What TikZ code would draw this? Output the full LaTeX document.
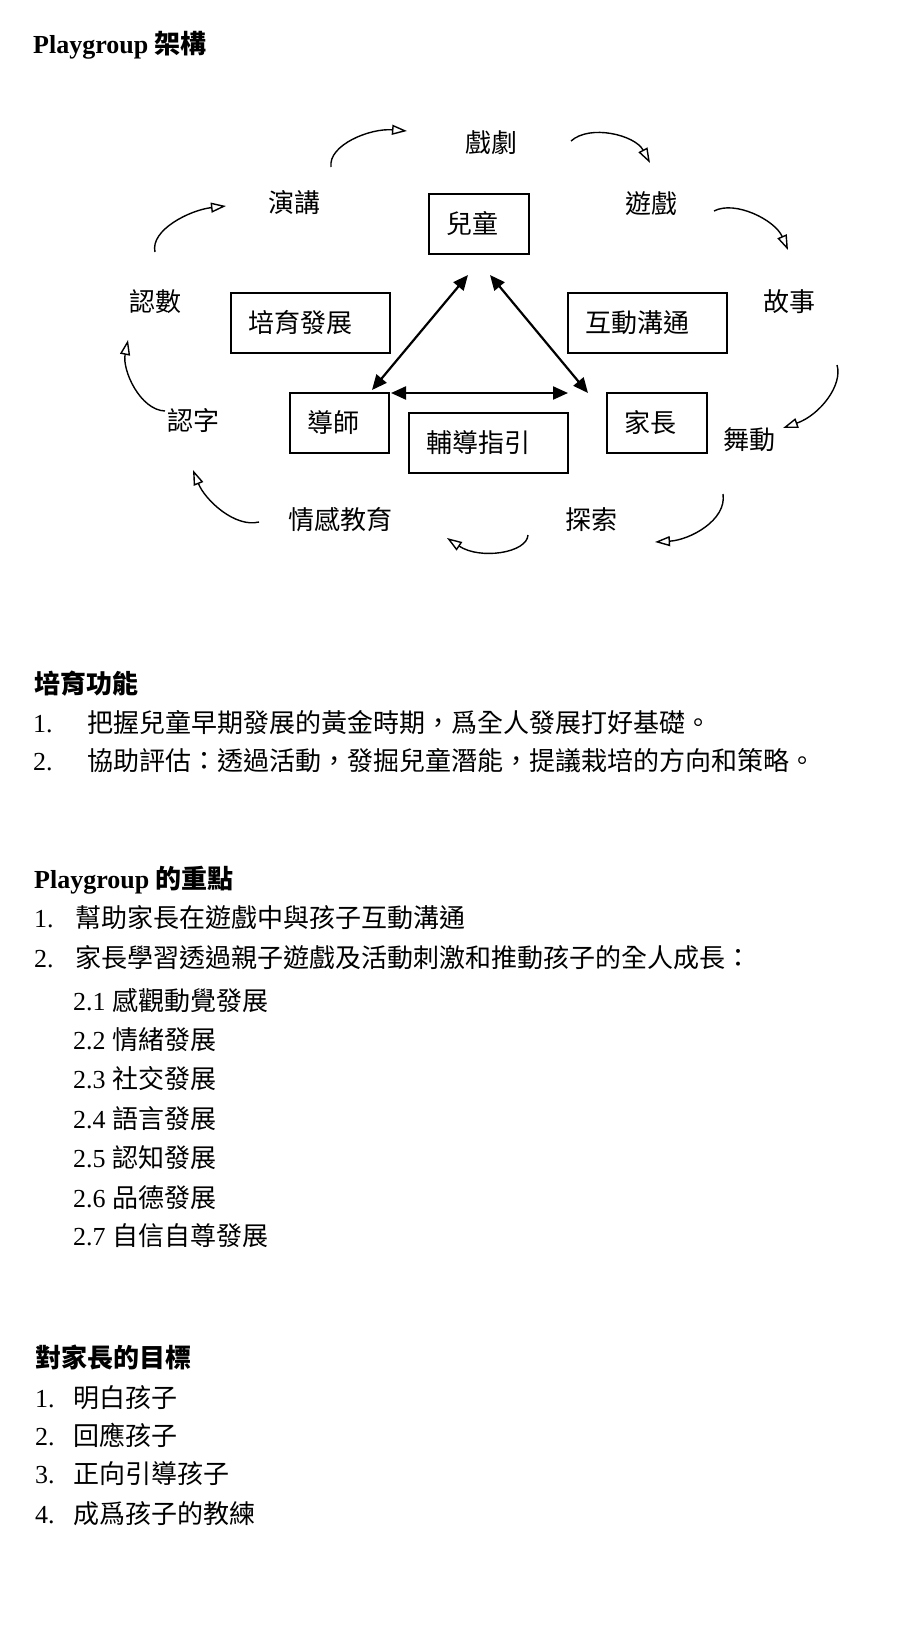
\documentclass[tikz,border=0pt]{standalone}
\usepackage{fontspec}
\setmainfont{Liberation Serif}
\newfontfamily\cjk{Noto Sans CJK TC}
\usetikzlibrary{arrows.meta}
\newcommand\mysz{\fontsize{26pt}{31pt}\selectfont}
\tikzset{
  lbl/.style={inner sep=0pt, text height=22.9pt, text depth=3.1pt, font=\mysz\cjk},
  txt/.style={inner sep=0pt, anchor=base west, font=\mysz},
  hd/.style={inner sep=0pt, anchor=base west, font=\mysz\bfseries},
  box/.style={draw, line width=1.5pt, inner xsep=17pt, inner ysep=0pt, minimum height=60pt,
    align=left, text height=22.9pt, text depth=3.1pt, font=\mysz\cjk},
  dbl/.style={{Triangle[length=15pt,width=13pt]}-{Triangle[length=15pt,width=13pt]}, line width=2.2pt},
  cyc/.style={-{Triangle[open,length=15pt,width=10pt,line width=1.4pt]}, line width=1.4pt}
}
\begin{document}
\begin{tikzpicture}[x=1pt,y=-1pt]
\useasboundingbox (0,0) rectangle (899,1625);
\fill[white] (0,0) rectangle (899,1625);

% title
\node[hd] (title) at (33,53) {Playgroup {\cjk 架構}};

% cycle labels
\node[lbl] (xiju)  at (491,143) {戲劇};
\node[lbl] (yanj)  at (294,203) {演講};
\node[lbl] (youx)  at (651,204) {遊戲};
\node[lbl] (rens)  at (155,302) {認數};
\node[lbl] (gush)  at (789,302) {故事};
\node[lbl] (renz)  at (193,421) {認字};
\node[lbl] (wudo)  at (749,440) {舞動};
\node[lbl] (qing)  at (340,520) {情感教育};
\node[lbl] (tans)  at (591,520) {探索};

% boxes
\node[box, text width=66pt]  (child)  at (479,224)   {兒童};
\node[box, text width=125pt] (peiyu)  at (310.5,323) {培育發展};
\node[box, text width=125pt] (hudong) at (647.5,323) {互動溝通};
\node[box, text width=65pt]  (tutor)  at (339.5,423) {導師};
\node[box, text width=125pt] (guide)  at (488.5,443) {輔導指引};
\node[box, text width=66pt]  (parent) at (657,423)   {家長};

% triangle arrows
\coordinate (a1) at (468,275); \coordinate (a2) at (372,390);
\coordinate (b1) at (490,275); \coordinate (b2) at (588,393);
\coordinate (h1) at (391,393); \coordinate (h2) at (568,393);
\draw[dbl] (a1) -- (a2);
\draw[dbl] (b1) -- (b2);
\draw[dbl] (h1) -- (h2);

% cycle arrows
\coordinate (c1s) at (331,167); \coordinate (c1e) at (407,131);
\coordinate (c2s) at (571,141); \coordinate (c2e) at (650,163);
\coordinate (c3s) at (714,211); \coordinate (c3e) at (788,250);
\coordinate (c4s) at (837,365); \coordinate (c4e) at (783,428);
\coordinate (c5s) at (723,494); \coordinate (c5e) at (655,542);
\coordinate (c6s) at (528,535); \coordinate (c6e) at (447,538);
\coordinate (c7s) at (259,522); \coordinate (c7e) at (193,470);
\coordinate (c8s) at (165,411); \coordinate (c8e) at (128,340);
\coordinate (c9s) at (155,252); \coordinate (c9e) at (226,206);
\draw[cyc] (c1s) .. controls (328,145) and (370,128) .. (c1e);
\draw[cyc] (c2s) .. controls (590,124) and (635,135) .. (c2e);
\draw[cyc] (c3s) .. controls (735,200) and (775,220) .. (c3e);
\draw[cyc] (c4s) .. controls (843,385) and (820,415) .. (c4e);
\draw[cyc] (c5s) .. controls (727,520) and (690,540) .. (c5e);
\draw[cyc] (c6s) .. controls (527,553) and (480,560) .. (c6e);
\draw[cyc] (c7s) .. controls (235,528) and (205,500) .. (c7e);
\draw[cyc] (c8s) .. controls (140,410) and (122,370) .. (c8e);
\draw[cyc] (c9s) .. controls (150,230) and (190,210) .. (c9e);

% section 1
\node[hd] (h1t) at (34,693) {\cjk 培育功能};
\node[txt] (f1n) at (33,732) {1.};
\node[txt] (f1t) at (87,732) {\cjk 把握兒童早期發展的黃金時期，爲全人發展打好基礎。};
\node[txt] (f2n) at (33,770) {2.};
\node[txt] (f2t) at (87,770) {\cjk 協助評估：透過活動，發掘兒童潛能，提議栽培的方向和策略。};

% section 2
\node[hd] (h2t) at (34,888) {Playgroup {\cjk 的重點}};
\node[txt] (p1n) at (34,927) {1.};
\node[txt] (p1t) at (75,927) {\cjk 幫助家長在遊戲中與孩子互動溝通};
\node[txt] (p2n) at (34,967) {2.};
\node[txt] (p2t) at (75,967) {\cjk 家長學習透過親子遊戲及活動刺激和推動孩子的全人成長：};
\node[txt] (s1) at (73,1010) {2.1 {\cjk 感觀動覺發展}};
\node[txt] (s2) at (73,1049) {2.2 {\cjk 情緒發展}};
\node[txt] (s3) at (73,1088) {2.3 {\cjk 社交發展}};
\node[txt] (s4) at (73,1128) {2.4 {\cjk 語言發展}};
\node[txt] (s5) at (73,1167) {2.5 {\cjk 認知發展}};
\node[txt] (s6) at (73,1207) {2.6 {\cjk 品德發展}};
\node[txt] (s7) at (73,1245) {2.7 {\cjk 自信自尊發展}};

% section 3
\node[hd] (h3t) at (35,1367) {\cjk 對家長的目標};
\node[txt] (g1n) at (35,1407) {1.};
\node[txt] (g1t) at (73,1407) {\cjk 明白孩子};
\node[txt] (g2n) at (35,1445) {2.};
\node[txt] (g2t) at (73,1445) {\cjk 回應孩子};
\node[txt] (g3n) at (35,1483) {3.};
\node[txt] (g3t) at (73,1483) {\cjk 正向引導孩子};
\node[txt] (g4n) at (35,1523) {4.};
\node[txt] (g4t) at (73,1523) {\cjk 成爲孩子的教練};
\end{tikzpicture}
\end{document}
